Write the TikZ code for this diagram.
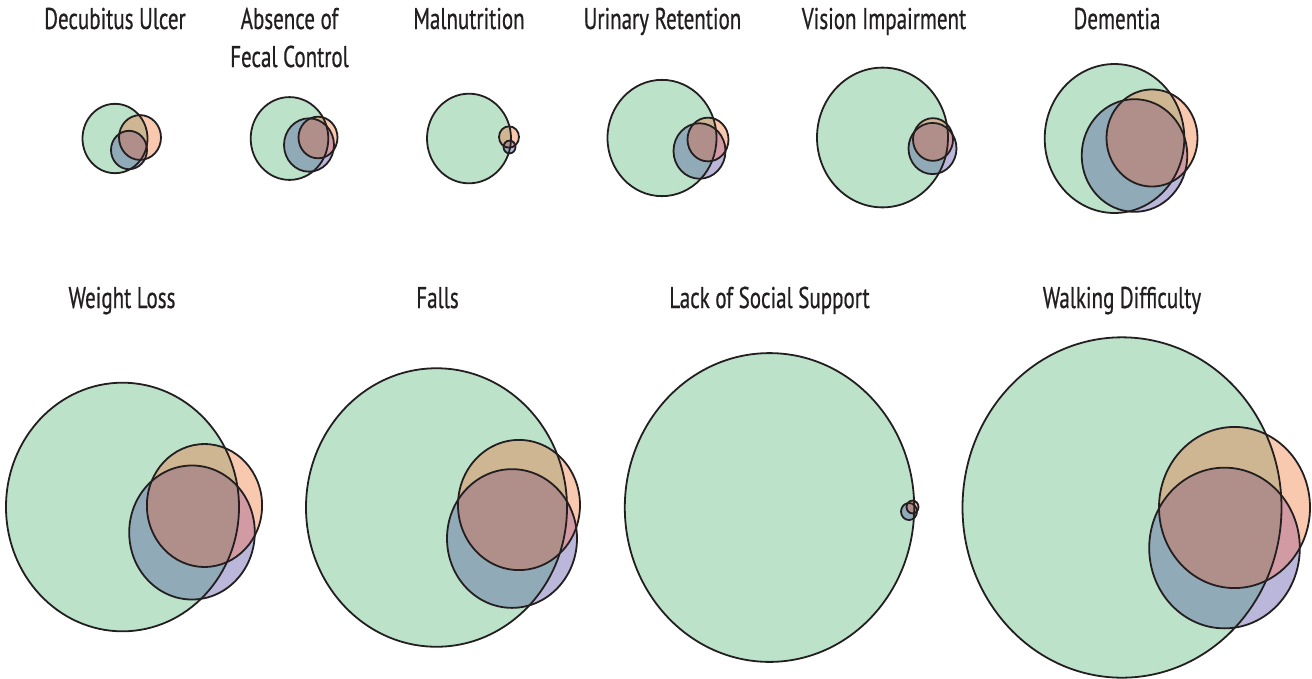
\documentclass[tikz,border=0pt]{standalone}
\usepackage{fontspec}
\setmainfont[FakeStretch=0.70,FakeBold=0.6]{PT Sans}
\definecolor{ink}{HTML}{231F20}
\definecolor{cG}{HTML}{BDE2CA}
\definecolor{cO}{HTML}{F8C8AF}
\definecolor{cB}{HTML}{BAB7DB}
\definecolor{cGO}{HTML}{CFB692}
\definecolor{cGB}{HTML}{91AAB8}
\definecolor{cOB}{HTML}{D29AA3}
\definecolor{cGOB}{HTML}{B08F8A}
\tikzset{
  title/.style={font=\fontsize{30}{38}\selectfont, text=ink, inner sep=0pt, anchor=base, align=center},
  outline/.style={draw=ink, line width=1.8pt}
}
\newcommand{\vthree}[9]{%
  \fill[cG] (#1,#2) ellipse [x radius=#3pt, y radius=#3*1.067pt];
  \fill[cO] (#4,#5) ellipse [x radius=#6pt, y radius=#6*1.067pt];
  \fill[cB] (#7,#8) ellipse [x radius=#9pt, y radius=#9*1.067pt];
  \begin{scope}
    \clip (#1,#2) ellipse [x radius=#3pt, y radius=#3*1.067pt];
    \fill[cGO] (#4,#5) ellipse [x radius=#6pt, y radius=#6*1.067pt];
    \fill[cGB] (#7,#8) ellipse [x radius=#9pt, y radius=#9*1.067pt];
  \end{scope}
  \begin{scope}
    \clip (#4,#5) ellipse [x radius=#6pt, y radius=#6*1.067pt];
    \fill[cOB] (#7,#8) ellipse [x radius=#9pt, y radius=#9*1.067pt];
  \end{scope}
  \begin{scope}
    \clip (#1,#2) ellipse [x radius=#3pt, y radius=#3*1.067pt];
    \clip (#4,#5) ellipse [x radius=#6pt, y radius=#6*1.067pt];
    \fill[cGOB] (#7,#8) ellipse [x radius=#9pt, y radius=#9*1.067pt];
  \end{scope}
  \draw[outline] (#1,#2) ellipse [x radius=#3pt, y radius=#3*1.067pt];
  \draw[outline] (#4,#5) ellipse [x radius=#6pt, y radius=#6*1.067pt];
  \draw[outline] (#7,#8) ellipse [x radius=#9pt, y radius=#9*1.067pt];
}
\begin{document}
\begin{tikzpicture}[x=1pt,y=-1pt]
\useasboundingbox (0,0) rectangle (1312,678);
% top row
\vthree{115}{138.5}{32.5}{140}{137.5}{21}{129}{150}{18}
\vthree{289.5}{138.5}{38.8}{318}{137.5}{19.5}{309}{145}{25}
\vthree{469}{138.5}{42}{509}{137}{10}{509.5}{147}{6}
\vthree{662}{138}{54.5}{708}{139.5}{20.5}{699.5}{151}{26}
\vthree{882.5}{137.5}{65.5}{933}{139.5}{20}{932.5}{148.5}{24}
\vthree{1114.5}{138.5}{69.8}{1152}{138}{45.5}{1134.5}{155.5}{52.8}
% bottom row
\vthree{122.5}{507}{116.5}{204.5}{505.5}{57.6}{192}{532.5}{62.8}
\vthree{436.5}{507.5}{130.5}{519}{505}{61}{512}{538.5}{65}
\vthree{769.5}{507.5}{144.7}{912.5}{507}{6}{909}{511.5}{8}
\vthree{1122}{507.5}{159.5}{1234.5}{507.5}{75.5}{1224.5}{548}{75.3}
% titles
\node[title] (t1) at (115,29) {Decubitus Ulcer};
\node[title] (t2a) at (289.5,29) {Absence of};
\node[title] (t2b) at (289.5,67) {Fecal Control};
\node[title] (t3) at (469,29) {Malnutrition};
\node[title] (t4) at (662.5,29) {Urinary Retention};
\node[title] (t5) at (884,29) {Vision Impairment};
\node[title] (t6) at (1117,29) {Dementia};
\node[title] (t7) at (122,308) {Weight Loss};
\node[title] (t8) at (437.5,308) {Falls};
\node[title] (t9) at (769.5,308) {Lack of Social Support};
\node[title] (t10) at (1122,308) {Walking Difficulty};
\end{tikzpicture}
\end{document}
